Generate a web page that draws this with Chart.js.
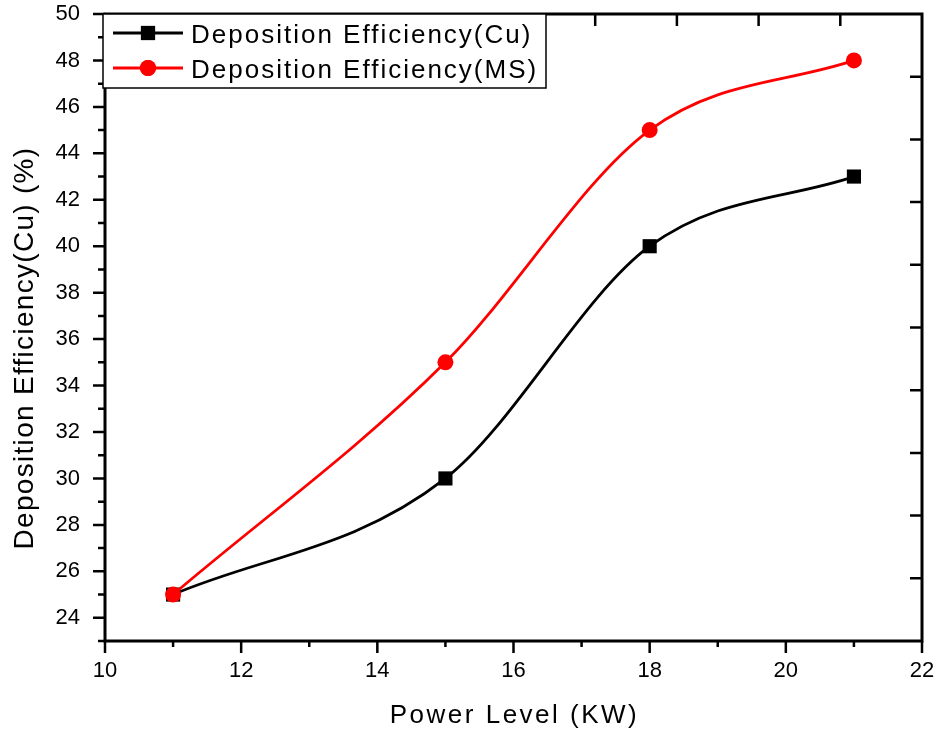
<!DOCTYPE html>
<html>
<head>
<meta charset="utf-8">
<script src="https://cdn.jsdelivr.net/npm/chart.js@4.4.1/dist/chart.umd.min.js"></script>
<style>
  html, body { margin: 0; padding: 0; background: #fff; }
  canvas { display: block; }
</style>
</head>
<body>
<canvas id="chart" width="938" height="731"></canvas>
<script>
// values
const powerLevels = [11, 15, 18, 21];
const cuEff = [25, 30, 40, 43];
const msEff = [25, 35, 45, 48];
const xTicks = [10, 12, 14, 16, 18, 20, 22];
const yTicks = [24, 26, 28, 30, 32, 34, 36, 38, 40, 42, 44, 46, 48, 50];
const seriesNames = ['Deposition Efficiency(Cu)', 'Deposition Efficiency(MS)'];
const xTitle = 'Power Level (KW)';
const yTitle = 'Deposition Efficiency(Cu) (%)';

const FONT = "'Liberation Sans', Arial, sans-serif";

// frame, minor ticks, titles and legend
const framePlugin = {
  id: 'framePlugin',
  afterDraw: (chart) => {
    const { ctx, chartArea: { top, left, right, bottom }, scales } = chart;
    ctx.save();
    ctx.strokeStyle = '#000';
    ctx.lineWidth = 2.5;
    ctx.beginPath();
    // bottom axis ticks, outward
    for (let v = scales.x.min; v <= scales.x.max; v++) {
      const px = scales.x.getPixelForValue(v);
      const len = v % 2 === 0 ? 12 : 6;
      ctx.moveTo(px, bottom);
      ctx.lineTo(px, bottom + len);
    }
    // left axis ticks, outward
    for (let v = scales.y.min; v <= scales.y.max; v++) {
      const py = scales.y.getPixelForValue(v);
      const len = v % 2 === 0 ? 12 : 7;
      ctx.moveTo(left, py);
      ctx.lineTo(left - len, py);
    }
    // top axis ticks, inward
    scales.x2.ticks.forEach(t => {
      const px = scales.x2.getPixelForValue(t.value);
      ctx.moveTo(px, top);
      ctx.lineTo(px, top + 12);
    });
    // right axis ticks, inward
    scales.y2.ticks.forEach(t => {
      const py = scales.y2.getPixelForValue(t.value);
      ctx.moveTo(right, py);
      ctx.lineTo(right - 12, py);
    });
    ctx.stroke();

    ctx.lineWidth = 3;
    ctx.strokeRect(left, top, right - left, bottom - top);

    // axis titles
    ctx.fillStyle = '#000';
    ctx.letterSpacing = '2.5px';
    ctx.font = '26px ' + FONT;
    ctx.textAlign = 'center';
    ctx.textBaseline = 'alphabetic';
    ctx.fillText(xTitle, (left + right) / 2 + 1, 723);

    ctx.save();
    ctx.letterSpacing = '1.3px';
    ctx.font = '28px ' + FONT;
    ctx.translate(33, 348);
    ctx.rotate(-Math.PI / 2);
    ctx.fillText(yTitle, 0, 0);
    ctx.restore();

    // legend
    const lx = 103, ly = 14, lw = 443, lh = 74;
    ctx.fillStyle = '#fff';
    ctx.fillRect(lx, ly, lw, lh);
    ctx.lineWidth = 1.5;
    ctx.strokeStyle = '#000';
    ctx.strokeRect(lx, ly, lw, lh);

    chart.data.datasets.forEach((ds, i) => {
      const cy = 33 + i * 35;
      ctx.strokeStyle = ds.borderColor;
      ctx.lineWidth = 2.8;
      ctx.beginPath();
      ctx.moveTo(113, cy);
      ctx.lineTo(183, cy);
      ctx.stroke();
      ctx.fillStyle = ds.pointBackgroundColor;
      Chart.helpers.drawPoint(ctx, {
        pointStyle: ds.pointStyle,
        radius: ds.pointRadius,
        borderWidth: 0,
        rotation: 0
      }, 148, cy);
      ctx.fill();
      ctx.fillStyle = '#000';
      ctx.letterSpacing = '2px';
      ctx.font = '26px ' + FONT;
      ctx.textAlign = 'left';
      ctx.fillText(seriesNames[i], 191, cy + 9.5);
    });
    ctx.restore();
  }
};

new Chart(document.getElementById('chart').getContext('2d'), {
  type: 'line',
  data: {
    datasets: [{
      label: seriesNames[0],
      data: powerLevels.map((x, i) => ({ x: x, y: cuEff[i] })),
      borderColor: '#000',
      backgroundColor: '#000',
      pointBackgroundColor: '#000',
      pointBorderColor: '#000',
      pointStyle: 'rect',
      pointRadius: 10,
      pointBorderWidth: 0,
      borderWidth: 2.8,
      cubicInterpolationMode: 'monotone',
      order: 2
    }, {
      label: seriesNames[1],
      data: powerLevels.map((x, i) => ({ x: x, y: msEff[i] })),
      borderColor: '#ff0000',
      backgroundColor: '#ff0000',
      pointBackgroundColor: '#ff0000',
      pointBorderColor: '#ff0000',
      pointStyle: 'circle',
      pointRadius: 8,
      pointBorderWidth: 0,
      borderWidth: 2.8,
      cubicInterpolationMode: 'monotone',
      order: 1
    }]
  },
  options: {
    responsive: false,
    animation: false,
    layout: { padding: { left: 0, right: 16, top: 14, bottom: 0 } },
    scales: {
      x: {
        type: 'linear',
        position: 'bottom',
        min: 10,
        max: 22,
        afterBuildTicks: (s) => { s.ticks = xTicks.map(v => ({ value: v })); },
        afterFit: (s) => { s.height = 90; s.paddingLeft = 0; s.paddingRight = 0; },
        ticks: { font: { size: 22, family: FONT }, color: '#000', padding: 17, maxRotation: 0 },
        grid: { display: false, drawTicks: false },
        border: { display: false }
      },
      y: {
        type: 'linear',
        position: 'left',
        min: 23,
        max: 50,
        afterBuildTicks: (s) => { s.ticks = yTicks.map(v => ({ value: v })); },
        afterFit: (s) => { s.width = 105; s.paddingTop = 0; s.paddingBottom = 0; },
        ticks: { font: { size: 22, family: FONT }, color: '#000', padding: 25 },
        grid: { display: false, drawTicks: false },
        border: { display: false }
      },
      x2: {
        type: 'linear',
        axis: 'x',
        position: 'top',
        min: 0,
        max: 10,
        afterBuildTicks: (s) => { s.ticks = [1, 2, 3, 4, 5, 6, 7, 8, 9].map(v => ({ value: v })); },
        afterFit: (s) => { s.height = 0; },
        ticks: { display: false },
        grid: { display: false, drawTicks: false },
        border: { display: false }
      },
      y2: {
        type: 'linear',
        axis: 'y',
        position: 'right',
        min: 0,
        max: 10,
        afterBuildTicks: (s) => { s.ticks = [1, 2, 3, 4, 5, 6, 7, 8, 9].map(v => ({ value: v })); },
        afterFit: (s) => { s.width = 0; },
        ticks: { display: false },
        grid: { display: false, drawTicks: false },
        border: { display: false }
      }
    },
    plugins: {
      legend: { display: false },
      tooltip: { enabled: false }
    }
  },
  plugins: [framePlugin]
});
</script>
</body>
</html>
